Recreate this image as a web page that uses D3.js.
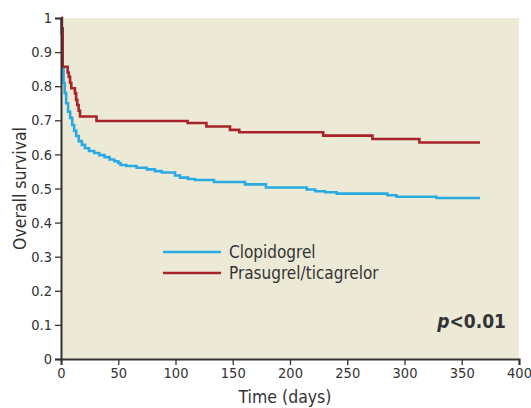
<!DOCTYPE html>
<html>
<head>
<meta charset="utf-8">
<script src="https://cdn.jsdelivr.net/npm/d3@7"></script>
<style>
  body { margin: 0; background: #fff; }
  text { font-family: "Liberation Sans Narrow", "DejaVu Sans Condensed", "Roboto Condensed", sans-serif; fill: #333; }
</style>
</head>
<body>
<div id="plot"></div>
<script>
// Kaplan-Meier steps: [day, survival]
var clopidogrel = [
  [0, 1], [0.5, 0.955], [1.2, 0.85], [2.2, 0.81], [3.2, 0.78], [4.5, 0.75],
  [6.2, 0.725], [8, 0.707], [9.8, 0.686], [11.5, 0.669], [13.3, 0.654],
  [15.5, 0.639], [18.2, 0.628], [21, 0.618], [24.5, 0.610], [29, 0.604],
  [33.5, 0.598], [38, 0.592], [42.5, 0.585], [46.5, 0.580], [50, 0.575], [52, 0.569],
  [57, 0.566], [66, 0.561], [75, 0.556], [82, 0.551], [88, 0.547], [99.6, 0.538],
  [104, 0.532], [111, 0.528], [117, 0.525], [133.6, 0.519], [160.7, 0.512],
  [179, 0.503], [214.6, 0.497], [222, 0.492], [230.6, 0.489], [240.8, 0.485],
  [285, 0.480], [293, 0.476], [328, 0.472], [366, 0.472]
];
var prasugrel = [
  [0, 1], [0.8, 0.97], [1.5, 0.857], [5.8, 0.84], [6.8, 0.828], [7.9, 0.81],
  [9, 0.794], [12.2, 0.779], [13.2, 0.76], [14.2, 0.745], [15.4, 0.728],
  [16.6, 0.711], [31, 0.698], [110.6, 0.692], [127, 0.682],
  [147.6, 0.672], [155.7, 0.665], [229, 0.655], [272, 0.645], [313, 0.635], [366, 0.635]
];
var xTicks = [0, 50, 100, 150, 200, 250, 300, 350, 400];
var yTicks = [0, 0.1, 0.2, 0.3, 0.4, 0.5, 0.6, 0.7, 0.8, 0.9, 1];
var seriesNames = ["Clopidogrel", "Prasugrel/ticagrelor"];
var seriesColors = ["#29abe2", "#a8232a"];

var margin = {top: 18, right: 12, bottom: 49, left: 61};
var width = 531 - margin.left - margin.right;
var height = 408 - margin.top - margin.bottom;

var svg = d3.select("#plot").append("svg")
  .attr("width", 531)
  .attr("height", 408);

var g = svg.append("g")
  .attr("transform", "translate(" + margin.left + "," + margin.top + ")");

var x = d3.scaleLinear().domain([0, 400]).range([0, width]);
var y = d3.scaleLinear().domain([0, 1]).range([height, 0]);

g.append("rect")
  .attr("x", 0).attr("y", 0)
  .attr("width", width).attr("height", height)
  .attr("fill", "#ecead7");

var line = d3.line()
  .x(function(d) { return x(d[0]); })
  .y(function(d) { return y(d[1]); })
  .curve(d3.curveStepAfter);

[clopidogrel, prasugrel].forEach(function(data, i) {
  g.append("path")
    .datum(data)
    .attr("d", line)
    .attr("fill", "none")
    .attr("stroke", seriesColors[i])
    .attr("stroke-width", 2.6);
});

var xAxis = g.append("g")
  .attr("transform", "translate(0," + height + ")")
  .call(d3.axisBottom(x).tickValues(xTicks).tickSize(6).tickPadding(3));
var yAxis = g.append("g")
  .call(d3.axisLeft(y).tickValues(yTicks).tickSize(6).tickPadding(3)
    .tickFormat(function(d) { return d === 0 || d === 1 ? d : d.toFixed(1); }));

[xAxis, yAxis].forEach(function(a) {
  a.select(".domain").attr("stroke", "#333").attr("stroke-width", 2);
  a.selectAll(".tick line").attr("stroke", "#333").attr("stroke-width", 1.3);
  a.selectAll(".tick text").style("font-size", "14.5px").attr("fill", "#333");
});

svg.append("text")
  .attr("x", margin.left + x(200) - 5)
  .attr("y", 403)
  .attr("text-anchor", "middle")
  .style("font-size", "17.5px")
  .text("Time (days)");

svg.append("text")
  .attr("transform", "translate(26," + (margin.top + y(0.5)) + ") rotate(-90)")
  .attr("text-anchor", "middle")
  .style("font-size", "17.5px")
  .text("Overall survival");

var legend = g.append("g").attr("transform", "translate(102,234)");
seriesNames.forEach(function(name, i) {
  legend.append("line")
    .attr("x1", 0).attr("x2", 58)
    .attr("y1", i * 21).attr("y2", i * 21)
    .attr("stroke", seriesColors[i])
    .attr("stroke-width", 2.6);
  legend.append("text")
    .attr("x", 66).attr("y", i * 21 + 6)
    .style("font-size", "17px")
    .text(name);
});

var p = g.append("text")
  .attr("x", width - 13)
  .attr("y", y(0.09))
  .attr("text-anchor", "end")
  .style("font-size", "19px")
  .style("font-weight", "bold");
p.append("tspan").style("font-style", "italic").text("p");
p.append("tspan").text("<0.01");
</script>
</body>
</html>
